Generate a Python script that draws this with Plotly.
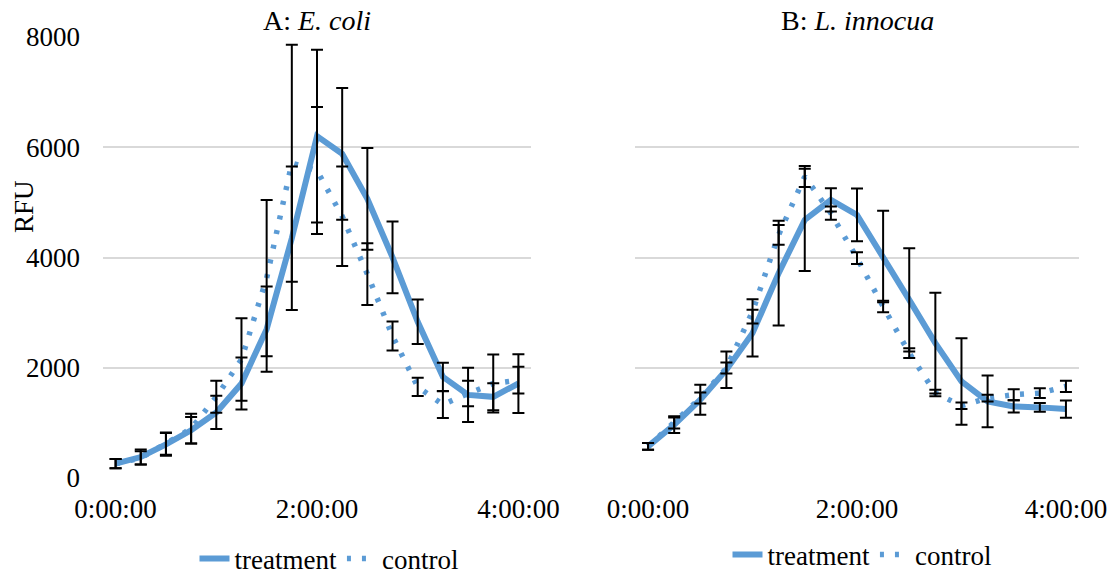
import plotly.graph_objects as go

times = ["0:00:00", "0:15:00", "0:30:00", "0:45:00", "1:00:00", "1:15:00", "1:30:00", "1:45:00",
         "2:00:00", "2:15:00", "2:30:00", "2:45:00", "3:00:00", "3:15:00", "3:30:00", "3:45:00", "4:00:00"]
tick_labels = ["0:00:00", "2:00:00", "4:00:00"]

# Panel A: E. coli
a_treat = [260, 380, 610, 866, 1190, 1714, 2700, 4348, 6201, 5880, 5063, 4003, 2834, 1835, 1508, 1472, 1714]
a_treat_err = [85, 136, 206, 240, 303, 470, 773, 1302, 1568, 1196, 924, 650, 405, 257, 490, 245, 533]
a_ctrl = [260, 363, 624, 896, 1472, 2150, 3627, 5711, 5578, 4748, 3700, 2574, 1653, 1332, 1532, 1714, 1775]
a_ctrl_err = [85, 120, 200, 270, 290, 750, 1417, 2150, 1150, 902, 560, 263, 166, 242, 230, 527, 242]

# Panel B: L. innocua
b_treat = [574, 967, 1420, 1964, 2628, 3716, 4683, 5045, 4773, 4018, 3232, 2447, 1752, 1390, 1299, 1281, 1251]
b_treat_err = [60, 151, 272, 332, 423, 950, 926, 210, 480, 830, 937, 912, 785, 471, 110, 80, 157]
b_ctrl = [574, 997, 1450, 1994, 3021, 4411, 5468, 4803, 3988, 3112, 2266, 1541, 1311, 1450, 1510, 1540, 1662]
b_ctrl_err = [60, 100, 100, 100, 220, 180, 190, 120, 105, 105, 90, 60, 60, 60, 100, 90, 100]

BLUE = "#5b9bd5"
FONT = "Liberation Serif, Times New Roman, serif"

fig = go.Figure()

def add_panel(xa, ya, treat, treat_err, ctrl, ctrl_err, legend):
    fig.add_trace(go.Scatter(x=times, y=treat, mode="lines", name="treatment",
                             line=dict(color=BLUE, width=6), xaxis=xa, yaxis=ya, legend=legend))
    fig.add_trace(go.Scatter(x=times, y=ctrl, mode="lines", name="control",
                             line=dict(color=BLUE, width=5.5, dash="4px,11px"),
                             xaxis=xa, yaxis=ya, legend=legend))
    for vals, errs in ((treat, treat_err), (ctrl, ctrl_err)):
        fig.add_trace(go.Scatter(x=times, y=vals, mode="markers", showlegend=False,
                                 marker=dict(size=1, color="rgba(0,0,0,0)"),
                                 error_y=dict(type="data", array=errs, visible=True,
                                              color="black", thickness=2, width=6),
                                 xaxis=xa, yaxis=ya, hoverinfo="skip"))

add_panel("x", "y", a_treat, a_treat_err, a_ctrl, a_ctrl_err, "legend")
add_panel("x2", "y2", b_treat, b_treat_err, b_ctrl, b_ctrl_err, "legend2")

W, H = 1117, 577
L, R, T, B = 103, 38, 37, 99
pw = W - L - R
ph = H - T - B

def px_x(p):
    return (p - L) / pw

def px_y(p):
    return (H - B - p) / ph

tf = dict(family=FONT, size=27, color="black")

xcommon = dict(type="category", categoryorder="array", categoryarray=times,
               range=[-0.5, 16.5], tickmode="array", tickvals=tick_labels, ticktext=tick_labels,
               showgrid=False, zeroline=False, showline=False, ticks="",
               ticklabelstandoff=12, tickfont=tf)
ycommon = dict(range=[0, 8000], dtick=2000, showgrid=True, gridcolor="#d9d9d9", gridwidth=2,
               zeroline=False, showline=False, ticks="", tickfont=tf)

fig.update_layout(
    width=W, height=H,
    font=dict(family=FONT, size=27, color="black"),
    margin=dict(l=L, r=R, t=T, b=B, autoexpand=False),
    paper_bgcolor="white", plot_bgcolor="white",
    xaxis=dict(domain=[0, px_x(531)], anchor="y", **xcommon),
    xaxis2=dict(domain=[px_x(635), 1], anchor="y2", **xcommon),
    yaxis=dict(domain=[0, 1], anchor="x", ticklabelstandoff=22, **ycommon),
    yaxis2=dict(domain=[0, 1], anchor="x2", showticklabels=False, **ycommon),
    legend=dict(orientation="h", xref="container", yref="container",
                x=329 / W, xanchor="center", y=1 - 559 / H, yanchor="middle",
                font=tf, bgcolor="rgba(0,0,0,0)"),
    legend2=dict(orientation="h", xref="container", yref="container",
                 x=862 / W, xanchor="center", y=1 - 555 / H, yanchor="middle",
                 font=tf, bgcolor="rgba(0,0,0,0)"),
    showlegend=True,
    annotations=[
        dict(text="A: <i>E. coli</i>", xref="paper", yref="paper", x=px_x(317), y=px_y(20),
             xanchor="center", yanchor="middle", showarrow=False,
             font=dict(family=FONT, size=28, color="black")),
        dict(text="B: <i>L. innocua</i>", xref="paper", yref="paper", x=px_x(857), y=px_y(20),
             xanchor="center", yanchor="middle", showarrow=False,
             font=dict(family=FONT, size=28, color="black")),
        dict(text="RFU", xref="paper", yref="paper", x=px_x(24), y=px_y(207),
             xanchor="center", yanchor="middle", showarrow=False, textangle=-90,
             font=tf),
    ],
)

fig.write_html("out.html", config={"displayModeBar": False},
               post_script="document.body.style.margin='0px';document.body.style.overflow='hidden';")
